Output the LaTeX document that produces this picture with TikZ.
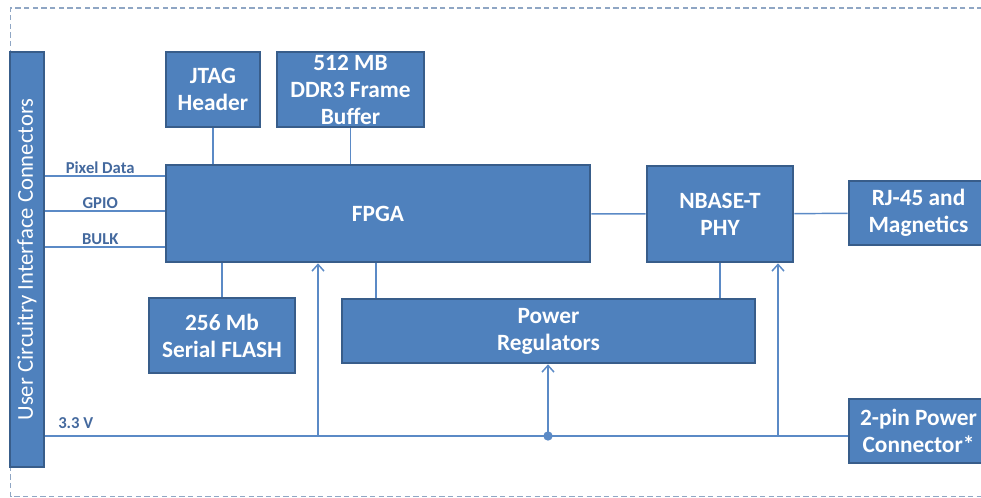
\documentclass[tikz,border=0pt]{standalone}
\usepackage{fontspec}
\setmainfont{Carlito}
\usetikzlibrary{arrows.meta}
\definecolor{boxfill}{HTML}{4F81BD}
\definecolor{boxline}{HTML}{385D8A}
\definecolor{wirecol}{HTML}{5B8AC6}
\definecolor{lblcol}{HTML}{44699E}
\definecolor{framecol}{HTML}{8FA6C4}

\begin{document}
\begin{tikzpicture}[x=0.75pt,y=-0.75pt,
  blk/.style={draw=boxline, line width=2pt, fill=boxfill, inner sep=0pt,
    text=white, align=center, font=\fontsize{17.5}{20.25}\selectfont\bfseries},
  wire/.style={draw=wirecol, line width=1.1pt},
  up/.style={wire, -{Straight Barb[length=5pt,width=9pt,line width=1.1pt]}},
  sig/.style={text=lblcol, inner sep=1.5pt, font=\fontsize{12.5}{14}\selectfont\bfseries}]
\useasboundingbox (0,0) rectangle (981,498);

% outer dashed boundary (open to the right)
\draw[framecol, line width=0.8pt, dash pattern=on 4pt off 2.5pt]
  (1000,8) -- (10.5,8) -- (10.5,496.5) -- (1000,496.5);

% blocks
\node[blk, minimum width=25.5pt, minimum height=311.25pt] (ucic) at (27,259.5) {};
\node[rotate=90, text=white, font=\fontsize{17}{20}\selectfont] (ucictext) at (ucic.center)
  {User Circuitry Interface Connectors};
\node[blk, minimum width=70.5pt, minimum height=56.25pt] (jtag) at (213,89.5) {JTAG\\Header};
\node[blk, minimum width=110.25pt, minimum height=56.25pt] (ddr) at (350.5,89.5) {512 MB\\DDR3 Frame\\Buffer};
\node[blk, minimum width=318pt, minimum height=72.75pt] (fpga) at (378,213.5) {FPGA};
\node[blk, minimum width=109.5pt, minimum height=72pt] (phy) at (720,214) {NBASE-T\\PHY};
\node[blk, minimum width=104.25pt, minimum height=48pt] (rj) at (918.5,213) {RJ-45 and\\Magnetics};
\node[blk, minimum width=109.5pt, minimum height=56.25pt] (flash) at (222,335.5) {256 Mb\\Serial FLASH};
\node[blk, minimum width=309.75pt, minimum height=48pt] (preg) at (548.5,331) {Power\\Regulators};
\node[blk, minimum width=104.25pt, minimum height=48pt] (pwr) at (918.5,431) {2-pin Power\\Connector*};

% helper coordinates
\coordinate (ypix) at (0,176);
\coordinate (ygpio) at (0,211);
\coordinate (ybulk) at (0,247);
\coordinate (rail) at (0,436);
\coordinate (tapA) at (376,0);
\coordinate (j1) at (318,436);
\coordinate (j2) at (548,436);
\coordinate (j3) at (778,436);

% user interface signals
\draw[wire] (ucic.east |- ypix) -- node[sig, above, pos=0.46] {Pixel Data} (fpga.west |- ypix);
\draw[wire] (ucic.east |- ygpio) -- node[sig, above, pos=0.46] {GPIO} (fpga.west |- ygpio);
\draw[wire] (ucic.east |- ybulk) -- node[sig, above, pos=0.46] {BULK} (fpga.west |- ybulk);

% data connections
\draw[wire] (jtag) -- (jtag |- fpga.north);
\draw[wire] (ddr) -- (ddr |- fpga.north);
\draw[wire] (flash) -- (flash |- fpga.south);
\draw[wire] (tapA |- fpga.south) -- (tapA |- preg.north);
\draw[wire] (phy.south) -- (phy.south |- preg.north);
\draw[wire] (fpga) -- (phy);
\draw[wire] (phy) -- (rj);

% 3.3 V supply rail
\draw[wire] (ucic.east |- rail) -- (pwr.west |- rail);
\node[sig, anchor=south west] (v33) at (56,431) {3.3 V};
\draw[up] (j1) -- (j1 |- fpga.south);
\draw[up] (j2) -- (j2 |- preg.south);
\draw[up] (j3) -- (j3 |- phy.south);
\fill[wirecol] (j2) circle (3.5pt);
\end{tikzpicture}
\end{document}
